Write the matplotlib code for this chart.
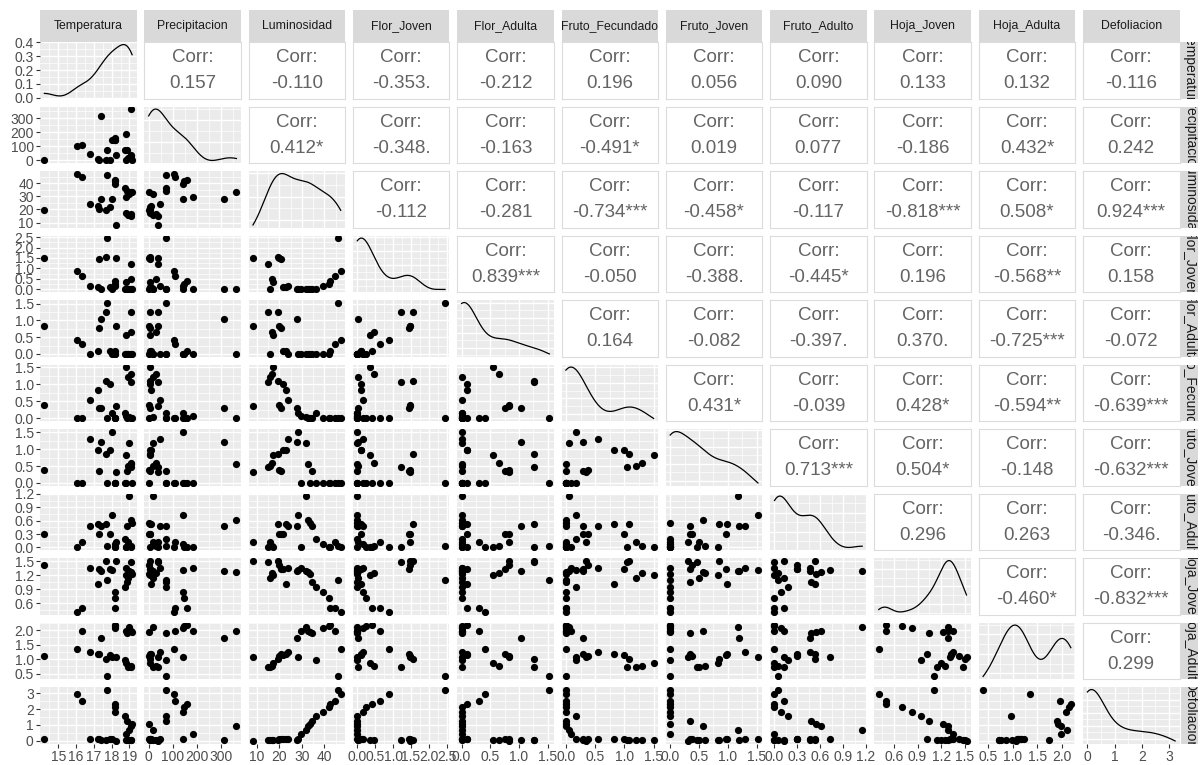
import numpy as np
import matplotlib
matplotlib.use("Agg")
import matplotlib.pyplot as plt
from matplotlib.ticker import FixedLocator, FixedFormatter

plt.rcParams['font.family'] = ['Liberation Sans Narrow', 'Liberation Sans', 'DejaVu Sans']

# ---- observations (one entry per sampling date) ----
temperatura = [18.26, 19.06, 18.91, 19.10, 18.82, 17.66, 14.22, 17.29, 17.89, 17.24, 16.77, 17.42, 18.04,
               18.78, 19.00, 19.10, 19.15, 18.85, 18.73, 18.17, 18.20, 18.20, 16.31, 17.74, 16.08]
precipitacion = [40, 37, 20, 30, 5, 5, 0, 5, 5, 10, 48, 314, 144,
                 185, 16, 366, 0, 74, 71, 144, 149, 158, 110, 71, 105]
luminosidad = [8.2, 14.8, 15.6, 16.6, 17.3, 19.3, 19.8, 20.5, 21.6, 22.9, 23.9, 27.7, 28.2,
               29.4, 31.9, 32.9, 33.6, 34.4, 36.3, 39.3, 41.9, 42.5, 44.8, 46.3, 47.3]
flor_joven = [1.48, 1.23, 0.03, 0.48, 0.36, 1.56, 1.48, 1.45, 0.11, 0.11, 0.15, 0.03, 0.00,
              0.00, 0.00, 0.00, 0.00, 0.00, 0.00, 0.15, 0.25, 0.41, 0.64, 2.45, 0.89]
flor_adulta = [0.83, 1.26, 0.00, 0.66, 0.55, 1.26, 0.83, 0.76, 0.10, 0.10, 0.00, 1.04, 0.00,
               0.00, 0.00, 0.00, 0.00, 0.00, 0.00, 0.00, 0.00, 0.10, 0.31, 1.53, 0.41]
fruto_fecundado = [0.35, 1.05, 1.20, 1.30, 1.50, 1.08, 0.38, 0.30, 1.00, 0.82, 0.55, 0.30, 0.17,
                   0.08, 0.05, 0.00, 0.00, 0.00, 0.17, 0.00, 0.00, 0.00, 0.00, 0.00, 0.00]
fruto_joven = [0.31, 0.47, 0.50, 0.60, 0.82, 0.85, 0.37, 0.34, 0.96, 0.98, 1.30, 1.20, 1.52,
               0.00, 1.18, 0.56, 0.00, 0.34, 0.00, 0.00, 0.00, 0.00, 0.00, 0.00, 0.00]
fruto_adulto = [0.12, 0.00, 0.12, 0.04, 0.00, 0.53, 0.30, 0.30, 0.30, 0.53, 0.47, 0.47, 0.73,
                0.00, 1.15, 0.61, 0.55, 0.48, 0.18, 0.08, 0.00, 0.00, 0.12, 0.04, 0.00]
hoja_joven = [1.52, 1.48, 1.15, 1.25, 1.20, 1.50, 1.43, 1.33, 1.33, 1.02, 1.35, 1.29, 1.31,
              1.35, 1.29, 1.28, 1.22, 1.05, 0.95, 0.83, 0.71, 0.50, 0.50, 1.11, 0.41]
hoja_adulta = [1.06, 0.73, 0.73, 0.77, 0.87, 0.99, 1.11, 1.17, 1.13, 1.17, 1.23, 1.74, 1.09,
               1.99, 2.10, 1.99, 1.93, 1.90, 0.97, 2.08, 2.15, 2.18, 1.96, 0.40, 1.35]
defoliacion = [0.00, 0.05, 0.05, 0.08, 0.08, 0.05, 0.09, 0.09, 0.09, 0.09, 0.09, 0.05, 0.12,
               0.43, 0.66, 0.92, 1.09, 1.25, 1.58, 1.80, 2.10, 2.34, 2.52, 3.22, 2.94]

names = ["Temperatura", "Precipitacion", "Luminosidad", "Flor_Joven", "Flor_Adulta",
         "Fruto_Fecundado", "Fruto_Joven", "Fruto_Adulto", "Hoja_Joven", "Hoja_Adulta",
         "Defoliacion"]
series = [temperatura, precipitacion, luminosidad, flor_joven, flor_adulta, fruto_fecundado,
          fruto_joven, fruto_adulto, hoja_joven, hoja_adulta, defoliacion]

# axis breaks for each variable
breaks = [
    ["15", "16", "17", "18", "19"],
    ["0", "100", "200", "300"],
    ["10", "20", "30", "40"],
    ["0.0", "0.5", "1.0", "1.5", "2.0", "2.5"],
    ["0.0", "0.5", "1.0", "1.5"],
    ["0.0", "0.5", "1.0", "1.5"],
    ["0.0", "0.5", "1.0", "1.5"],
    ["0.0", "0.3", "0.6", "0.9", "1.2"],
    ["0.6", "0.9", "1.2", "1.5"],
    ["0.5", "1.0", "1.5", "2.0"],
    ["0", "1", "2", "3"],
]
density_breaks = ["0.0", "0.1", "0.2", "0.3", "0.4"]

# upper triangle: correlation annotations, row by row
corr_rows = [
    ["0.157", "-0.110", "-0.353.", "-0.212", "0.196", "0.056", "0.090", "0.133", "0.132", "-0.116"],
    ["0.412*", "-0.348.", "-0.163", "-0.491*", "0.019", "0.077", "-0.186", "0.432*", "0.242"],
    ["-0.112", "-0.281", "-0.734***", "-0.458*", "-0.117", "-0.818***", "0.508*", "0.924***"],
    ["0.839***", "-0.050", "-0.388.", "-0.445*", "0.196", "-0.568**", "0.158"],
    ["0.164", "-0.082", "-0.397.", "0.370.", "-0.725***", "-0.072"],
    ["0.431*", "-0.039", "0.428*", "-0.594**", "-0.639***"],
    ["0.713***", "0.504*", "-0.148", "-0.632***"],
    ["0.296", "0.263", "-0.346."],
    ["-0.460*", "-0.832***"],
    ["0.299"],
]

W, H = 1202, 765
fig = plt.figure(figsize=(W / 100, H / 100), dpi=100)
fig.patch.set_facecolor("white")


def rect(x, y, w, h):
    return [x / W, 1 - (y + h) / H, w / W, h / H]


def expanded(v):
    lo, hi = float(np.min(v)), float(np.max(v))
    pad = 0.05 * (hi - lo)
    return lo - pad, hi + pad


def minor_from(major, lim):
    major = np.asarray(major, float)
    step = major[1] - major[0]
    cand = np.arange(major[0] - step / 2, major[-1] + step, step)
    return [c for c in cand if lim[0] <= c <= lim[1]]


def bw_nrd0(x):
    x = np.asarray(x, float)
    sd = np.std(x, ddof=1)
    q75, q25 = np.percentile(x, [75, 25])
    lo = min(sd, (q75 - q25) / 1.34)
    if lo <= 0:
        lo = sd if sd > 0 else 1.0
    return 0.9 * lo * len(x) ** (-0.2)


def kde(x, grid):
    x = np.asarray(x, float)
    bw = bw_nrd0(x)
    z = (grid[:, None] - x[None, :]) / bw
    return np.exp(-0.5 * z ** 2).sum(axis=1) / (len(x) * bw * np.sqrt(2 * np.pi))


n = len(names)
X0, PITCH_X, PW = 40.0, 104.3, 96.5
Y0, PITCH_Y, PH = 42.0, 64.5, 56.5
panel_bg = "#EBEBEB"
tick_col = "#4D4D4D"
corr_col = "#646464"

for i in range(n):
    for j in range(n):
        x = X0 + PITCH_X * j
        y = Y0 + PITCH_Y * i
        ax = fig.add_axes(rect(x, y, PW, PH))
        if i < j:
            ax.set_facecolor("white")
            for s in ax.spines.values():
                s.set_color("#DCDCDC")
                s.set_linewidth(0.8)
            ax.set_xticks([])
            ax.set_yticks([])
            ax.text(0.5, 0.72, "Corr:", ha="center", va="center", fontsize=13.5,
                    color=corr_col, transform=ax.transAxes)
            ax.text(0.5, 0.26, corr_rows[i][j - i - 1], ha="center", va="center",
                    fontsize=13.5, color=corr_col, transform=ax.transAxes)
            continue

        ax.set_facecolor(panel_bg)
        for s in ax.spines.values():
            s.set_visible(False)
        xv = np.asarray(series[j], float)
        xlim = expanded(xv)
        xmaj = [float(b) for b in breaks[j]]

        if i == j:
            grid = np.linspace(xv.min(), xv.max(), 512)
            dens = kde(xv, grid)
            ax.plot(grid, dens, color="black", lw=0.9)
            ylim = expanded(dens)
            top = dens.max()
            step = 10 ** np.floor(np.log10(top / 4))
            for m in (1, 2, 2.5, 5, 10):
                if top / (step * m) <= 5:
                    step *= m
                    break
            ymaj = [v for v in np.arange(0, top + step, step) if ylim[0] <= v <= ylim[1]]
            ylabels = [f"{v:.1f}" for v in ymaj]
            if i == 0:
                ymaj = [float(b) for b in density_breaks]
                ymaj = [v for v in ymaj if ylim[0] <= v <= ylim[1]]
                ylabels = [f"{v:.1f}" for v in ymaj]
        else:
            yv = np.asarray(series[i], float)
            ax.scatter(xv, yv, s=27, color="black", linewidths=0, zorder=3)
            ylim = expanded(yv)
            ymaj = [float(b) for b in breaks[i]]
            ylabels = breaks[i]

        ax.set_xlim(xlim)
        ax.set_ylim(ylim)
        ax.xaxis.set_major_locator(FixedLocator(xmaj))
        ax.yaxis.set_major_locator(FixedLocator(ymaj))
        ax.xaxis.set_minor_locator(FixedLocator(minor_from(xmaj, xlim)))
        if len(ymaj) > 1:
            ax.yaxis.set_minor_locator(FixedLocator(minor_from(ymaj, ylim)))
        ax.grid(which="major", color="white", lw=1.0)
        ax.grid(which="minor", color="white", lw=0.5)
        ax.set_axisbelow(True)
        ax.tick_params(which="minor", length=0)

        if j == 0:
            ax.yaxis.set_major_formatter(FixedFormatter(list(ylabels)))
            ax.tick_params(axis="y", which="major", length=3, width=0.8, color="#333333",
                           labelcolor=tick_col, labelsize=10, pad=1.5)
        else:
            ax.tick_params(axis="y", which="major", length=0, labelleft=False)
        if i == n - 1:
            ax.xaxis.set_major_formatter(FixedFormatter(breaks[j]))
            ax.tick_params(axis="x", which="major", length=3, width=0.8, color="#333333",
                           labelcolor=tick_col, labelsize=10, pad=1.5)
        else:
            ax.tick_params(axis="x", which="major", length=0, labelbottom=False)

# column strips on top
for j in range(n):
    sax = fig.add_axes(rect(X0 + PITCH_X * j, 10, PW, 31.5))
    sax.set_facecolor("#D9D9D9")
    sax.set_xticks([])
    sax.set_yticks([])
    for s in sax.spines.values():
        s.set_visible(False)
    sax.text(0.5, 0.5, names[j], ha="center", va="center", fontsize=8.8, color="#1A1A1A",
             transform=sax.transAxes, clip_on=True)

# row strips on the right (narrow, so the label is cut off)
for i in range(n):
    sax = fig.add_axes(rect(1181, Y0 + PITCH_Y * i, 17, PH))
    sax.set_facecolor("#D9D9D9")
    sax.set_xticks([])
    sax.set_yticks([])
    for s in sax.spines.values():
        s.set_visible(False)
    sax.text(0.5, 0.5, names[i], ha="center", va="center", rotation=-90, fontsize=10,
             color="#1A1A1A", transform=sax.transAxes, clip_on=True)

fig.savefig("out.png", dpi=100, facecolor="white")
